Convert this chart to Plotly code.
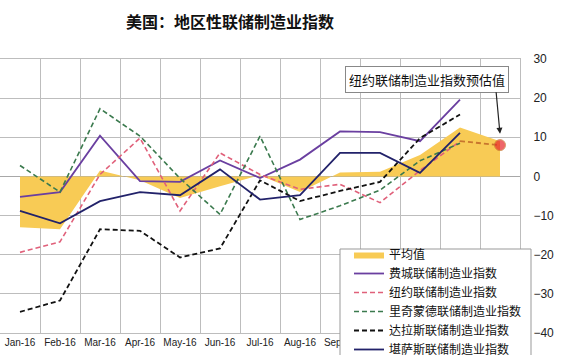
import plotly.graph_objects as go

months = ["Jan-16", "Feb-16", "Mar-16", "Apr-16", "May-16", "Jun-16", "Jul-16",
          "Aug-16", "Sep-16", "Oct-16", "Nov-16", "Dec-16", "Jan-17"]

avg = [-13.0, -13.5, 1.5, -1.0, -5.5, -2.5, 0.3, -4.0, 1.0, 1.2, 5.5, 12.5, 9.0]
philly = [-5.2, -4.0, 10.4, -1.2, -1.4, 4.1, -0.4, 4.3, 11.5, 11.3, 9.0, 19.6, None]
ny = [-19.4, -16.7, 0.5, 9.8, -8.8, 6.0, 0.5, -3.3, -2.0, -6.7, 1.5, 9.0, None]
richmond = [2.8, -4.0, 17.3, 10.3, -0.5, -9.7, 10.3, -11.0, -7.5, -3.5, 4.0, 8.5, None]
dallas = [-34.6, -31.7, -13.5, -13.9, -20.7, -18.4, -1.0, -6.3, -3.7, -1.4, 9.8, 15.8, None]
kansas = [-8.8, -12.0, -6.3, -4.0, -4.8, 1.8, -5.9, -4.8, 6.0, 6.0, 0.9, 11.1, None]
ny_forecast_x = ["Dec-16", "Jan-17"]
ny_forecast = [9.0, 8.0]

names = ["平均值", "费城联储制造业指数", "纽约联储制造业指数", "里奇蒙德联储制造业指数",
         "达拉斯联储制造业指数", "堪萨斯联储制造业指数"]

fig = go.Figure()
fig.add_trace(go.Scatter(x=months, y=avg, name=names[0], mode="lines",
                         line=dict(color="rgba(249,205,91,0)", width=0),
                         fill="tozeroy", fillcolor="#F8CB55"))
fig.add_trace(go.Scatter(x=months, y=philly, name=names[1], mode="lines",
                         line=dict(color="#6A3FA0", width=1.8)))
fig.add_trace(go.Scatter(x=months, y=ny, name=names[2], mode="lines",
                         line=dict(color="#E0607A", width=1.6, dash="5px,3px")))
fig.add_trace(go.Scatter(x=months, y=richmond, name=names[3], mode="lines",
                         line=dict(color="#3B7A4E", width=1.6, dash="5px,3px")))
fig.add_trace(go.Scatter(x=months, y=dallas, name=names[4], mode="lines",
                         line=dict(color="#111111", width=1.8, dash="5px,3px")))
fig.add_trace(go.Scatter(x=months, y=kansas, name=names[5], mode="lines",
                         line=dict(color="#22226A", width=1.8)))
fig.add_trace(go.Scatter(x=ny_forecast_x, y=ny_forecast, mode="lines+markers",
                         showlegend=False,
                         line=dict(color="#C8762E", width=1.8, dash="5px,3px"),
                         marker=dict(color="#E8262A", size=[0, 11])))

fig.add_annotation(text="纽约联储制造业指数预估值", xref="paper", yref="paper",
                   x=0.822, y=0.927, xanchor="center", yanchor="middle",
                   showarrow=False, font=dict(size=13, color="#111",
                                              family="Noto Sans CJK SC"),
                   bgcolor="white", bordercolor="#888", borderwidth=1, borderpad=3)
fig.add_annotation(text="", x="Jan-17", y=10.9, xref="x", yref="y",
                   ax=-4, ay=-43, showarrow=True, arrowhead=2, arrowsize=1,
                   arrowwidth=1.2, arrowcolor="#222")

# legend frame (white box, partly off the bottom edge as in the reference)
fig.add_shape(type="rect", xref="paper", yref="paper",
              x0=340/520, x1=531/520, y0=(333 - 362)/274, y1=(333 - 249)/274,
              fillcolor="white", line=dict(color="#999", width=1), layer="above")

fig.update_layout(
    width=565, height=355,
    margin=dict(l=0, r=45, t=59, b=22, autoexpand=False),
    paper_bgcolor="white", plot_bgcolor="white",
    title=dict(text="<b>美国：地区性联储制造业指数</b>", x=230/565, xanchor="center",
               y=1 - 22/355, yanchor="middle",
               font=dict(size=16, color="#111", family="Noto Sans CJK SC")),
    font=dict(family="Liberation Sans", color="#222"),
    legend=dict(x=349/520, xanchor="left", y=(333 - 240)/274, yanchor="top",
                bgcolor="rgba(0,0,0,0)", borderwidth=0,
                font=dict(size=12, family="Noto Sans CJK SC", color="#111"),
                tracegroupgap=0, itemwidth=30),
    xaxis=dict(type="category", range=[-0.5, 12.5], tickson="boundaries",
               showgrid=True, gridcolor="#BDBDBD", gridwidth=1,
               showline=True, linecolor="#BDBDBD", mirror=True,
               ticks="", tickfont=dict(size=10), tickangle=0, automargin=False,
               zeroline=False),
    yaxis=dict(range=[-40, 30], dtick=10, side="right",
               showgrid=True, gridcolor="#BDBDBD", gridwidth=1,
               showline=True, linecolor="#BDBDBD", mirror=True,
               zeroline=True, zerolinecolor="#A8A8A8", zerolinewidth=1,
               ticks="", tickfont=dict(size=12), ticklabelstandoff=10,
               automargin=False),
)

fig.write_html("out.html")
